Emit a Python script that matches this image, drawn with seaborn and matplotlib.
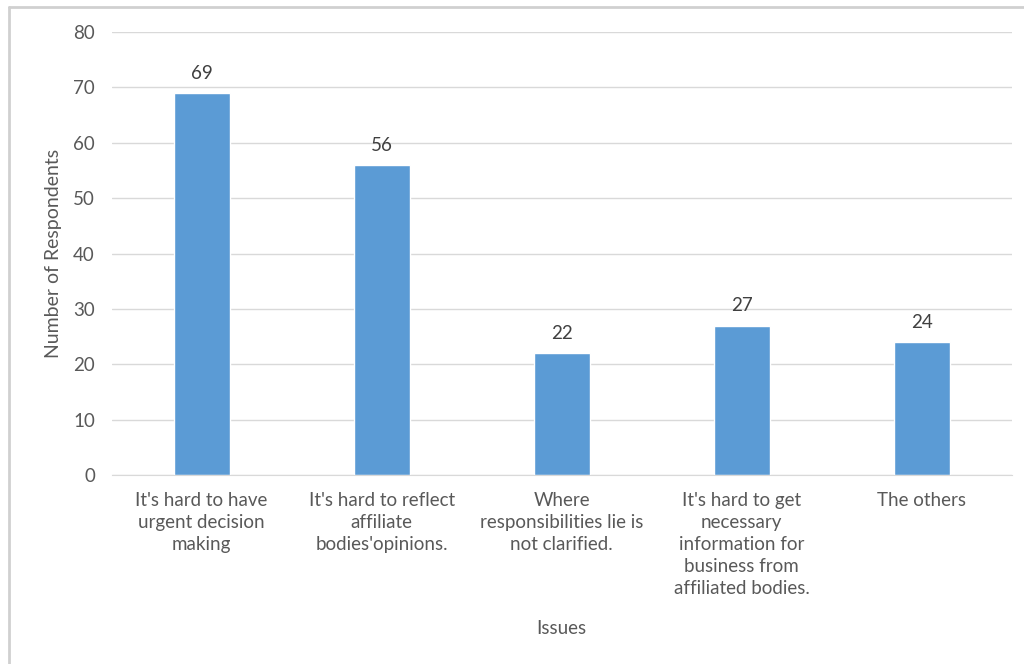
import matplotlib
matplotlib.use("Agg")
import matplotlib.pyplot as plt
from matplotlib.lines import Line2D
import seaborn as sns
import pandas as pd

# data
issues = [
    "It's hard to have\nurgent decision\nmaking",
    "It's hard to reflect\naffiliate\nbodies'opinions.",
    "Where\nresponsibilities lie is\nnot clarified.",
    "It's hard to get\nnecessary\ninformation for\nbusiness from\naffiliated bodies.",
    "The others",
]
respondents = [69, 56, 22, 27, 24]
y_ticks = [0, 10, 20, 30, 40, 50, 60, 70, 80]

BAR = "#5B9BD5"
TXT = "#595959"
GRID = "#D9D9D9"

sns.set_style("white")
plt.rcParams["font.family"] = ["Lato", "DejaVu Sans"]

df = pd.DataFrame({"issue": issues, "n": respondents})

fig = plt.figure(figsize=(10.24, 6.64), dpi=100)
ax = fig.add_axes([0.109, 0.2846, 0.879, 0.6672])

sns.barplot(data=df, x="issue", y="n", color=BAR, saturation=1, width=0.31, ax=ax)

ax.set_ylim(0, 80)
ax.set_xlim(-0.5, len(issues) - 0.5)
ax.set_yticks(y_ticks)
ax.yaxis.grid(True, color=GRID, linewidth=1)
ax.set_axisbelow(True)
for s in ["top", "right", "left"]:
    ax.spines[s].set_visible(False)
ax.spines["bottom"].set_color(GRID)
ax.tick_params(axis="both", length=0, labelsize=13.5, labelcolor=TXT)
ax.tick_params(axis="x", pad=12)
ax.tick_params(axis="y", pad=12)
for lbl in ax.get_xticklabels():
    lbl.set_linespacing(1.37)

ax.bar_label(ax.containers[0], padding=8, fontsize=13.5, color="#404040")

ax.set_xlabel("Issues", fontsize=13.5, color=TXT, labelpad=16)
ax.set_ylabel("Number of Respondents", fontsize=14, color=TXT, labelpad=8)

# light frame lines on top and left like the screenshot
fig.add_artist(Line2D([0.009, 1.0], [0.989, 0.989], color="#D0D0D0", linewidth=2))
fig.add_artist(Line2D([0.009, 0.009], [0.0, 0.989], color="#D0D0D0", linewidth=2))

fig.savefig("out.png", dpi=100)
